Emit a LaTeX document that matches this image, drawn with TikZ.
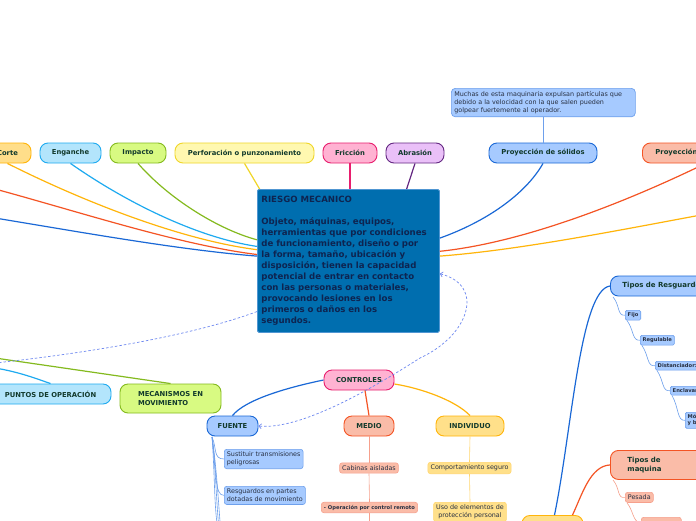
\documentclass[tikz,border=0pt]{standalone}
\usepackage{fontspec}
\setmainfont{DejaVu Sans}
\usetikzlibrary{positioning,arrows.meta}

\definecolor{txtg}{RGB}{18,58,44}
\definecolor{txtn}{RGB}{14,36,80}
\definecolor{txtl}{RGB}{40,48,66}
\definecolor{orF}{RGB}{255,222,138}
\definecolor{orD}{RGB}{255,181,10}
\definecolor{cyF}{RGB}{179,229,252}
\definecolor{cyD}{RGB}{30,170,240}
\definecolor{grF}{RGB}{216,250,130}
\definecolor{grD}{RGB}{132,186,30}
\definecolor{yeF}{RGB}{255,248,176}
\definecolor{yeD}{RGB}{240,214,40}
\definecolor{piF}{RGB}{255,178,210}
\definecolor{piD}{RGB}{232,30,110}
\definecolor{laF}{RGB}{234,192,248}
\definecolor{laD}{RGB}{100,40,130}
\definecolor{blF}{RGB}{166,202,255}
\definecolor{blD}{RGB}{26,104,214}
\definecolor{blL}{RGB}{110,160,236}
\definecolor{saF}{RGB}{250,188,168}
\definecolor{saD}{RGB}{244,84,36}
\definecolor{saL}{RGB}{246,160,140}
\definecolor{inF}{RGB}{255,224,138}
\definecolor{inL}{RGB}{255,214,110}
\definecolor{mainF}{RGB}{0,110,175}
\definecolor{mainD}{RGB}{80,150,210}
\definecolor{dashb}{RGB}{110,136,240}

\tikzset{
  topic/.style={draw, rounded corners=8pt, line width=0.9pt, minimum height=20pt,
    inner sep=0pt, font=\fontsize{6.8}{8.4}\selectfont\bfseries, text=txtg},
  leaf/.style={draw, rounded corners=2.5pt, line width=0.6pt, inner sep=2.6pt,
    font=\fontsize{6.4}{8}\selectfont, text=txtl, align=left},
  tinyleaf/.style={leaf, rounded corners=1.5pt, inner sep=2.4pt,
    font=\fontsize{5.2}{6}\selectfont\bfseries},
  link/.style={line width=1.2pt},
  sublink/.style={line width=0.6pt},
  dashline/.style={dash pattern=on 2.5pt off 2pt, line width=0.7pt, color=dashb},
  dashlink/.style={dashline, {Straight Barb[length=2.5pt]}-{Straight Barb[length=2.5pt]}}
}

\begin{document}
\begin{tikzpicture}[x=1pt,y=-1pt]
\clip (0,0) rectangle (696,520);
\fill[white] (0,0) rectangle (696,520);

% central topic
\node[draw=mainD, fill=mainF, line width=0.8pt, rounded corners=1.5pt, anchor=north west,
  text width=174pt, minimum height=143pt, inner sep=4pt, align=left, text=txtn,
  font=\fontsize{8.6}{11}\selectfont\bfseries] (main) at (257,189)
  {RIESGO MECANICO\\[11pt]
   Objeto, máquinas, equipos,\\
   herramientas que por condiciones\\
   de funcionamiento, diseño o por\\
   la forma, tamaño, ubicación y\\
   disposición, tienen la capacidad\\
   potencial de entrar en contacto\\
   con las personas o materiales,\\
   provocando lesiones en los\\
   primeros o daños en los\\
   segundos.};

% top row
\node[topic, fill=orF, draw=orD, minimum width=47pt] (corte) at (7.5,153) {Corte};
\node[topic, fill=cyF, draw=cyD, minimum width=61pt] (enganche) at (70.5,153) {Enganche};
\node[topic, fill=grF, draw=grD, minimum width=56pt] (impacto) at (138,153) {Impacto};
\node[topic, fill=yeF, draw=yeD, minimum width=139pt] (perf) at (244.5,153) {Perforación o punzonamiento};
\node[topic, fill=piF, draw=piD, minimum width=54pt] (friccion) at (350,153) {Fricción};
\node[topic, fill=laF, draw=laD, minimum width=58pt] (abrasion) at (415,153) {Abrasión};
\node[topic, fill=blF, draw=blD, minimum width=108pt] (solidos) at (543,153) {Proyección de sólidos};
\node[topic, fill=saF, draw=saD, anchor=west, text width=100pt, inner xsep=13pt, align=left] (proy) at (642,153) {Proyección};

% note
\node[draw=blL, fill=blF, line width=0.7pt, rounded corners=4pt, anchor=north west,
  text width=178pt, inner sep=3pt, align=left, text=txtl,
  font=\fontsize{6.4}{8}\selectfont] (nota) at (451,88)
  {Muchas de esta maquinaria expulsan partículas que\\
   debido a la velocidad con la que salen pueden\\
   golpear fuertemente al operador.};

% left nodes
\node[topic, fill=cyF, draw=cyD, minimum width=121pt] (puntos) at (50.5,394) {PUNTOS DE OPERACIÓN};
\node[topic, fill=grF, draw=grD, minimum width=101pt, minimum height=29pt, align=left] (meca) at (170.5,398.5) {MECANISMOS EN\\MOVIMIENTO};

% controles
\node[topic, fill=piF, draw=piD, minimum width=70pt] (controles) at (359,380) {CONTROLES};
\node[topic, fill=blF, draw=blD, minimum width=51pt] (fuente) at (232.5,426) {FUENTE};
\node[topic, fill=saF, draw=saD, minimum width=50pt] (medio) at (369,426) {MEDIO};
\node[topic, fill=inF, draw=orD, minimum width=68pt] (individuo) at (470,426) {INDIVIDUO};

\node[leaf, fill=blF, draw=blL, anchor=north west] (sust) at (224,449) {Sustituir transmisiones\\peligrosas};
\node[leaf, fill=blF, draw=blL, anchor=north west] (resg) at (224,486) {Resguardos en partes\\dotadas de movimiento};
\node[leaf, fill=saF, draw=saL] (cabinas) at (369,468) {Cabinas aisladas};
\node[leaf, fill=saF, draw=saL, font=\fontsize{5.2}{6}\selectfont\bfseries] (remoto) at (369.5,507.5) {- Operación por control remoto};
\node[leaf, fill=inF, draw=inL] (compo) at (469.5,468) {Comportamiento seguro};
\node[leaf, fill=inF, draw=inL, anchor=north, align=center] (epp) at (470,502) {Uso de elementos de\\protección personal};

% right branch
\node[topic, fill=inF, draw=orD, minimum width=61pt, minimum height=30pt, anchor=north] (tipos) at (552.5,515) {};
\node[topic, fill=blF, draw=blD, anchor=west, text width=90pt, inner xsep=12pt, align=left,
  font=\fontsize{7}{8.4}\selectfont\bfseries] (tresg) at (610,286) {Tipos de Resguardo};
\node[topic, fill=saF, draw=saD, anchor=north west, text width=80pt, inner xsep=17pt,
  minimum height=29pt, align=left, font=\fontsize{7}{8.6}\selectfont\bfseries] (tmaq) at (610,450) {Tipos de\\maquina};

\node[tinyleaf, fill=blF, draw=blL, anchor=north west] (fijo) at (625,310) {Fijo};
\node[tinyleaf, fill=blF, draw=blL, anchor=north west] (regul) at (640,335) {Regulable};
\node[tinyleaf, fill=blF, draw=blL, anchor=north west] (dist) at (655,361) {Distanciador:};
\node[tinyleaf, fill=blF, draw=blL, anchor=north west] (encl) at (670,386) {Enclavamiento};
\node[tinyleaf, fill=blF, draw=blL, anchor=north west] (movil) at (685,412) {Móviles\\y barreras};
\node[leaf, fill=saF, draw=saL, anchor=north west] (pesada) at (625,492) {Pesada};
\node[leaf, fill=saF, draw=saL, anchor=north west, minimum width=40pt, minimum height=14pt] (liviana) at (641,517) {};

% free ends
\coordinate (offL1) at (-5,189);
\coordinate (offL2) at (-5,218);
\coordinate (offL3) at (-5,363);
\coordinate (offL4) at (-5,358);
\coordinate (offL5) at (-5,368);
\coordinate (offR) at (701,215);
\coordinate (fsrc) at (212,437);
\coordinate (fdown1) at (224,545);
\coordinate (fdown2) at (226,560);
\coordinate (fdown3) at (228,575);

% main links
\draw[link, orD] (corte.south) .. controls (80,200) and (180,240) .. (main.173);
\draw[link, cyD] (enganche.south) .. controls (130,205) and (200,238) .. (main.171);
\draw[link, grD] (impacto.south) .. controls (170,200) and (220,230) .. (main.167);
\draw[link, yeD] (perf.south) -- (main.141);
\draw[link, piD] (friccion.south) -- (friccion.south |- main.north);
\draw[link, laD] (abrasion.south) -- (main.51);
\draw[link, saD] (offL1) .. controls (80,212) and (180,245) .. (main.176);
\draw[link, blD] (offL2) .. controls (80,232) and (180,250) .. (main.177.5);
\draw[link, blD] (solidos.south) .. controls (525,195) and (485,222) .. (main.14.5);
\draw[link, saD] (proy.south) .. controls (620,205) and (520,243) .. (main.6);
\draw[link, orD] (offR) .. controls (620,230) and (520,250) .. (main.3);
\draw[sublink, blL] (nota.south -| solidos.north) -- (solidos.north);
\draw[link, grD] (offL4) -- (meca.north);
\draw[link, cyD] (offL5) .. controls (20,372) and (40,380) .. (puntos.north);
\draw[dashline] (main.209) .. controls (180,340) and (60,356) .. (offL3);
\draw[dashlink] (main.-8) .. controls (485,285) and (470,335) .. (420,358)
  .. controls (370,390) and (300,430) .. (fuente.east);

% controles
\draw[link, blD] (controles.west) .. controls (285,388) and (245,400) .. (fuente.north);
\draw[link, saD] ([xshift=6pt]controles.south) -- (medio.north);
\draw[link, orD] ([yshift=-4pt]controles.east) .. controls (420,388) and (455,400) .. (individuo.north);

\draw[sublink, blL] (fsrc) .. controls (217,448) and (213,459) .. (sust.west);
\draw[sublink, blL] (fsrc) .. controls (217,470) and (214,496) .. (resg.west);
\draw[sublink, blL] (fsrc) .. controls (216,490) and (213,530) .. (fdown1);
\draw[sublink, blL] (fsrc) .. controls (218,490) and (216,540) .. (fdown2);
\draw[sublink, blL] (fsrc) .. controls (220,490) and (219,550) .. (fdown3);
\draw[sublink, saL] (medio.south) -- (cabinas.north);
\draw[sublink, saL] (cabinas.south) -- (remoto.north);
\draw[sublink, saL] (remoto.south) -- ++(0,15);
\draw[sublink, inL] (individuo.south) -- (compo.north);
\draw[sublink, inL] (compo.south) -- (epp.north);

% right branch links
\draw[link, blD] ([xshift=2pt]tipos.north) .. controls (572,430) and (580,290) .. (tresg.west);
\draw[link, saD] ([xshift=20pt]tipos.north) .. controls (582,495) and (590,466) .. (tmaq.west);
\draw[sublink, blL] (613,297) .. controls (620,305) and (617,316) .. (fijo.west);
\draw[sublink, blL] ([xshift=2pt]fijo.south west) .. controls (634,330) and (632,341) .. (regul.west);
\draw[sublink, blL] ([xshift=2pt]regul.south west) .. controls (649,356) and (647,367) .. (dist.west);
\draw[sublink, blL] ([xshift=2pt]dist.south west) .. controls (664,381) and (662,392) .. (encl.west);
\draw[sublink, blL] ([xshift=2pt]encl.south west) .. controls (679,408) and (677,421) .. (movil.west);
\draw[sublink, saL] (613,480) .. controls (620,488) and (617,499) .. (pesada.west);
\draw[sublink, saL] ([xshift=2pt]pesada.south west) .. controls (634,512) and (632,520) .. (liviana.west);
\end{tikzpicture}
\end{document}
